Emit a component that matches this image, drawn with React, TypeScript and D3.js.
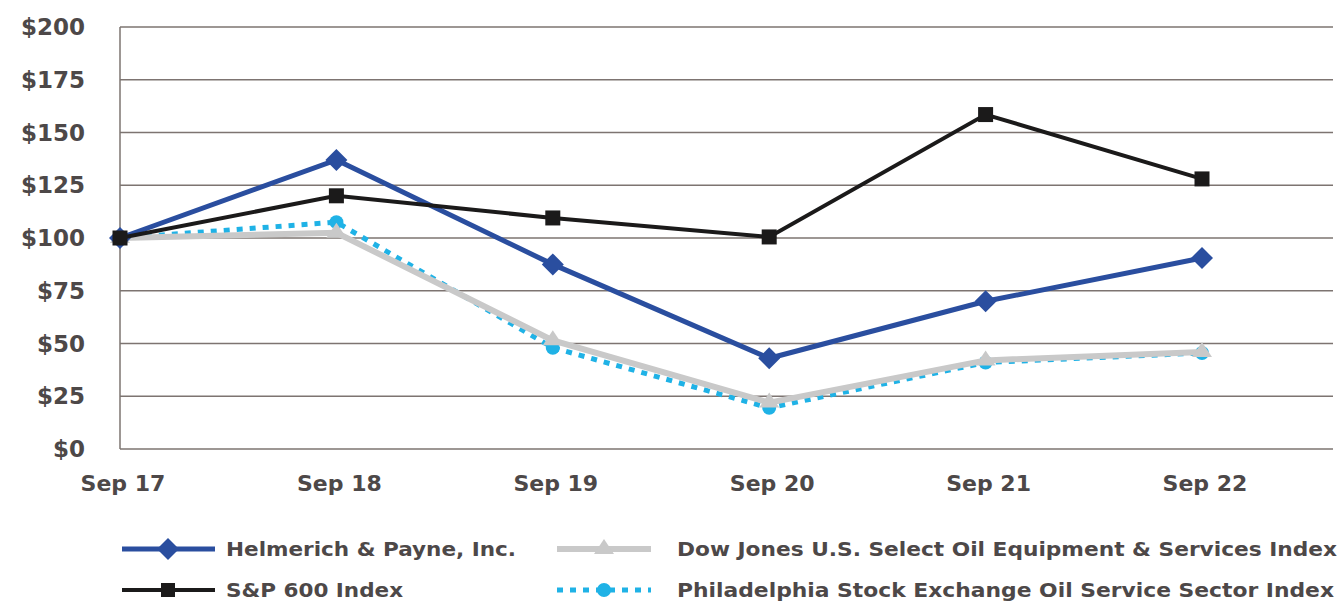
import React from "react";
import * as d3 from "d3";

const categories = ["Sep 17", "Sep 18", "Sep 19", "Sep 20", "Sep 21", "Sep 22"];
const helmerich = [100, 137, 87.5, 43, 70, 90.5];
const sp600 = [100, 120, 109.5, 100.5, 158.5, 128];
const dowJones = [100, 102.5, 51.5, 22, 42, 46];
const philadelphia = [100, 107.5, 48, 19.5, 41, 45.5];
const yTicks = [0, 25, 50, 75, 100, 125, 150, 175, 200];

const W = 1343, H = 602;
const left = 120, right = 1333, top = 27, bottom = 449;
const FONT = "'DejaVu Sans', sans-serif";
const TEXT = "#4d4848";
const GRID = "#7d7471";

export default function App() {
  const x = d3.scaleLinear().domain([0, categories.length - 1]).range([left, 1202]);
  const y = d3.scaleLinear().domain([0, 200]).range([bottom, top]);
  const line = d3.line<number>().x((_, i) => x(i)).y((d) => y(d));

  const diamond = (cx: number, cy: number, r: number, fill: string, key: any) => (
    <path key={key} d={`M${cx},${cy - r}L${cx + r},${cy}L${cx},${cy + r}L${cx - r},${cy}Z`} fill={fill} />
  );
  const square = (cx: number, cy: number, s: number, fill: string, key: any) => (
    <rect key={key} x={cx - s / 2} y={cy - s / 2} width={s} height={s} fill={fill} />
  );
  const triangle = (cx: number, cy: number, s: number, fill: string, key: any) => (
    <path key={key} d={`M${cx},${cy - s}L${cx + s},${cy + s * 0.5}L${cx - s},${cy + s * 0.5}Z`} fill={fill} />
  );

  return (
    <svg width={W} height={H} style={{ position: "absolute", left: 0, top: 0, background: "#fff" }}>
      {yTicks.map((t) => (
        <g key={t}>
          <line x1={left} x2={right} y1={y(t)} y2={y(t)} stroke={GRID} strokeWidth={1.5} />
          <text x={85} y={y(t) + 8} textAnchor="end" fontFamily={FONT} fontWeight={700} fontSize={23} fill={TEXT}>
            ${t}
          </text>
        </g>
      ))}
      <line x1={left} x2={left} y1={top} y2={bottom} stroke={GRID} strokeWidth={1.5} />
      {categories.map((c, i) => (
        <text key={c} x={x(i) + 3} y={491} textAnchor="middle" fontFamily={FONT} fontWeight={700} fontSize={22} fill={TEXT}>
          {c}
        </text>
      ))}

      {/* Philadelphia */}
      <path d={line(philadelphia) || ""} fill="none" stroke="#1fb2e6" strokeWidth={5} strokeDasharray="6 7" />
      {philadelphia.map((v, i) => <circle key={i} cx={x(i)} cy={y(v)} r={7} fill="#1fb2e6" />)}
      {/* Dow Jones */}
      <path d={line(dowJones) || ""} fill="none" stroke="#c9c9c9" strokeWidth={6} />
      {dowJones.map((v, i) => triangle(x(i), y(v), 10, "#c9c9c9", i))}
      {/* Helmerich */}
      <path d={line(helmerich) || ""} fill="none" stroke="#2a4e9f" strokeWidth={5} />
      {helmerich.map((v, i) => diamond(x(i), y(v), 11, "#2a4e9f", i))}
      {/* S&P 600 */}
      <path d={line(sp600) || ""} fill="none" stroke="#1b1a1a" strokeWidth={4} />
      {sp600.map((v, i) => square(x(i), y(v), 15, "#1b1a1a", i))}

      {/* Legend */}
      <g fontFamily={FONT} fontWeight={700} fontSize={20} fill={TEXT}>
        <line x1={122} x2={215} y1={549} y2={549} stroke="#2a4e9f" strokeWidth={5} />
        {diamond(168, 549, 11, "#2a4e9f", "ld")}
        <text x={226} y={556} textLength={290} lengthAdjust="spacingAndGlyphs">Helmerich &amp; Payne, Inc.</text>

        <line x1={122} x2={215} y1={590} y2={590} stroke="#1b1a1a" strokeWidth={4} />
        {square(168, 590, 14, "#1b1a1a", "ls")}
        <text x={226} y={597} textLength={177} lengthAdjust="spacingAndGlyphs">S&amp;P 600 Index</text>

        <line x1={557} x2={651} y1={549} y2={549} stroke="#c9c9c9" strokeWidth={6} />
        {triangle(604, 549, 10, "#c9c9c9", "lt")}
        <text x={677} y={556} textLength={660} lengthAdjust="spacingAndGlyphs">Dow Jones U.S. Select Oil Equipment &amp; Services Index</text>

        <line x1={557} x2={651} y1={590} y2={590} stroke="#1fb2e6" strokeWidth={5} strokeDasharray="6 7" />
        <circle cx={604} cy={590} r={7} fill="#1fb2e6" />
        <text x={677} y={597} textLength={657} lengthAdjust="spacingAndGlyphs">Philadelphia Stock Exchange Oil Service Sector Index</text>
      </g>
    </svg>
  );
}
